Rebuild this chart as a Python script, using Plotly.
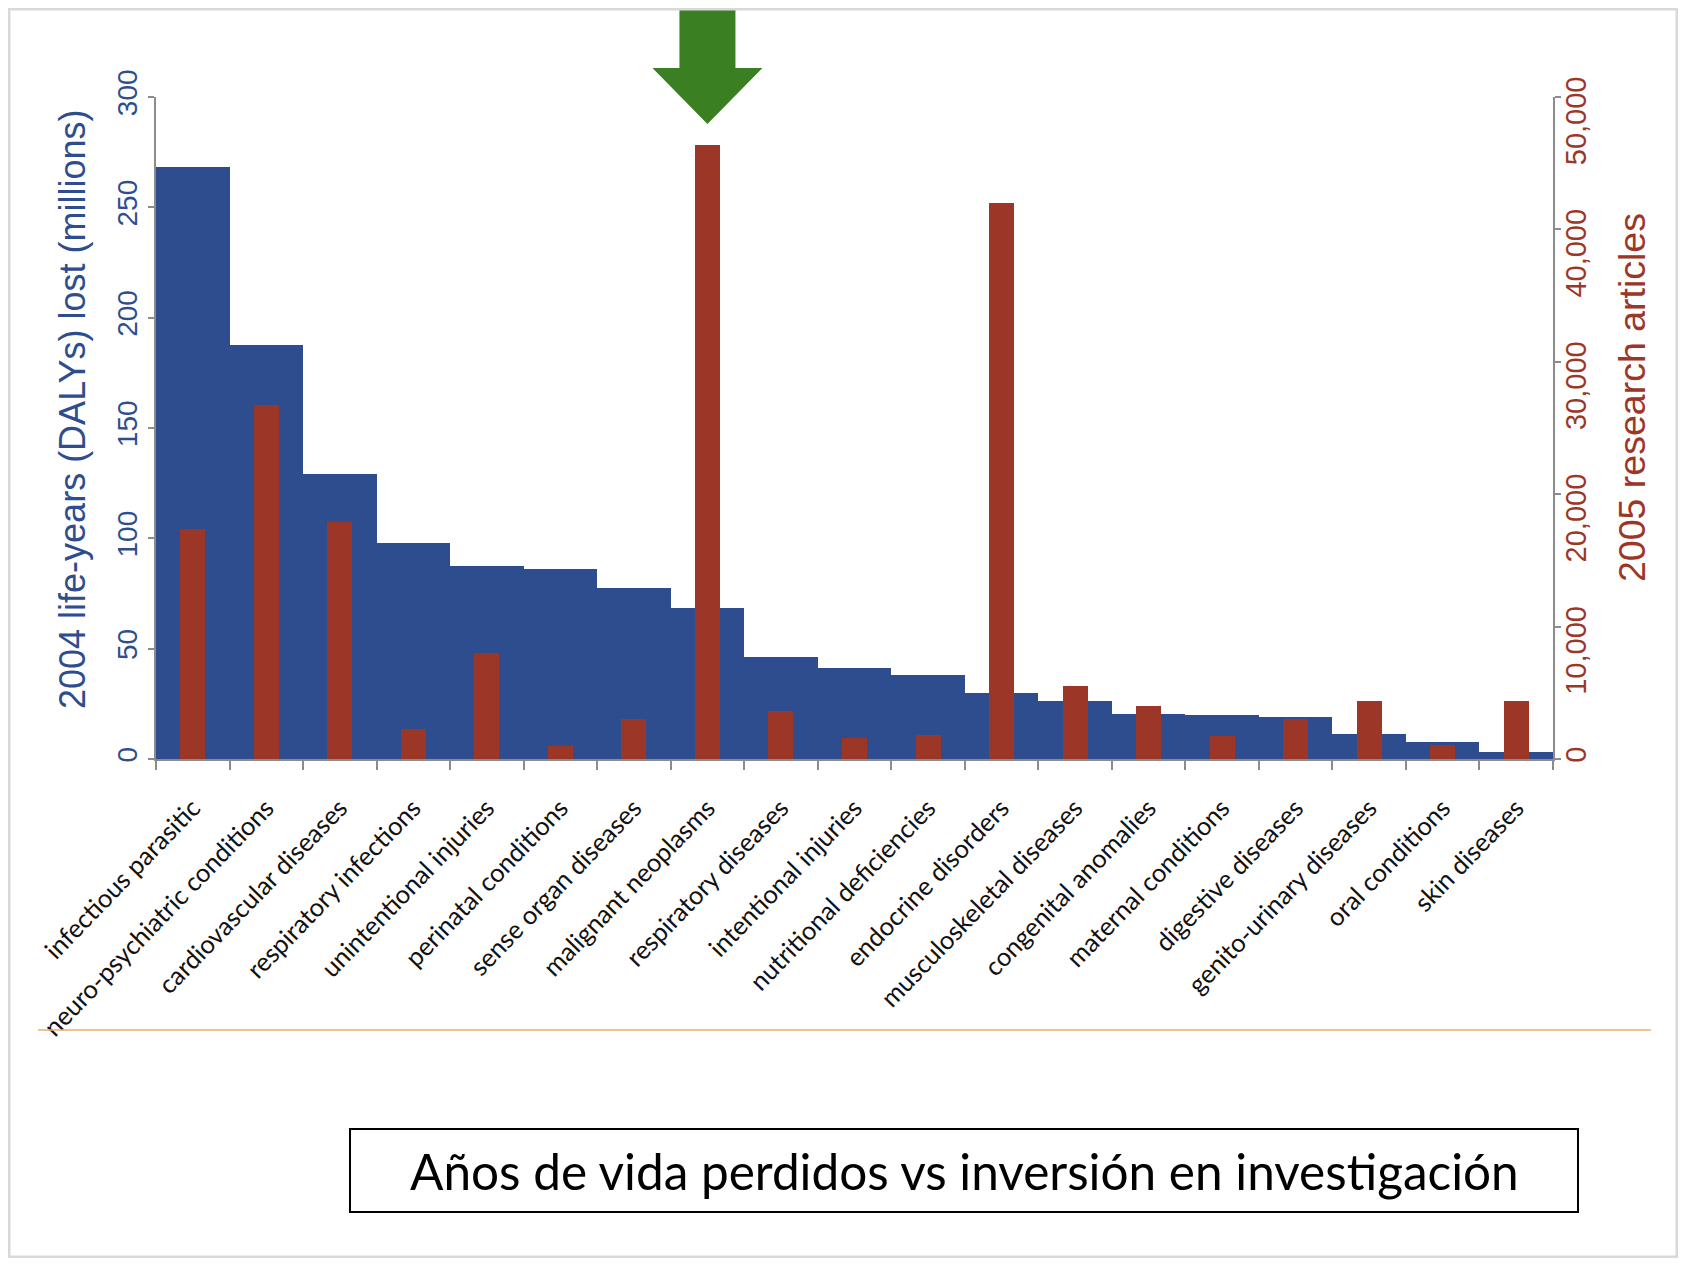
import plotly.graph_objects as go

# disease categories, 2004 DALYs lost (millions) and 2005 research articles
categories = ['infectious parasitic', 'neuro-psychiatric conditions', 'cardiovascular diseases',
              'respiratory infections', 'unintentional injuries', 'perinatal conditions',
              'sense organ diseases', 'malignant neoplasms', 'respiratory diseases',
              'intentional injuries', 'nutritional deficiencies', 'endocrine disorders',
              'musculoskeletal diseases', 'congenital anomalies', 'maternal conditions',
              'digestive diseases', 'genito-urinary diseases', 'oral conditions', 'skin diseases']
dalys = [268.5, 187.7, 129.1, 97.7, 87.6, 86.0, 77.7, 68.5, 46.4, 41.2,
         37.9, 29.9, 26.5, 20.5, 19.9, 19.1, 11.2, 7.6, 3.3]
articles = [17400, 26700, 17900, 2300, 8000, 950, 3000, 46350, 3650, 1550,
            1800, 42000, 5500, 4000, 1700, 3000, 4350, 1050, 4400]
left_ticks = [0, 50, 100, 150, 200, 250, 300]
right_ticks = [0, 10000, 20000, 30000, 40000, 50000]
highlight = 'malignant neoplasms'

BLUE = '#2E4D8E'
RED = '#9C3627'
AXIS = '#8c8c8c'
W, H = 1670, 1250
L, R, T, B = 148, 125, 89, 499
PW, PH = W - L - R, H - T - B


def px_x(x):
    return (x - L) / PW


def px_y(y):
    return (H - B - y) / PH


# right-axis labels sit a little below their ticks in the original, pad them
right_text = ['{:,}'.format(v) + ('\u00a0' * 7 if v else '') for v in right_ticks]

fig = go.Figure()
fig.add_trace(go.Bar(x=categories, y=dalys, width=1, marker=dict(color=BLUE, line_width=0),
                     name='DALYs'))
fig.add_trace(go.Bar(x=categories, y=articles, width=0.34, yaxis='y2',
                     marker=dict(color=RED, line_width=0), name='Articles'))

fig.update_layout(
    width=W, height=H,
    margin=dict(l=L, r=R, t=T, b=B, autoexpand=False),
    paper_bgcolor='white', plot_bgcolor='white',
    barmode='overlay', bargap=0, showlegend=False,
    font=dict(family='Liberation Sans, Arial, sans-serif'),
    xaxis=dict(type='category', range=[-0.5, len(categories) - 0.5],
               tickson='boundaries', ticks='outside', ticklen=9, tickcolor=AXIS, tickwidth=2,
               showline=True, linecolor=AXIS, linewidth=2, showgrid=False,
               ticklabelstandoff=22, tickangle=-46,
               tickfont=dict(family='Lato, sans-serif', size=25.5, color='#111111')),
    yaxis=dict(range=[0, 300], tickvals=left_ticks, ticks='outside', ticklen=6, tickcolor=AXIS,
               tickwidth=2, showline=True, linecolor=AXIS, linewidth=2, showgrid=False,
               zeroline=False, tickangle=-90, tickfont=dict(size=28, color=BLUE)),
    yaxis2=dict(range=[0, 50000], tickvals=right_ticks, ticktext=right_text, overlaying='y',
                side='right', ticks='outside', ticklen=6, tickcolor=AXIS, tickwidth=2,
                showline=True, linecolor=AXIS, linewidth=2, showgrid=False, zeroline=False,
                ticklabelstandoff=-10, tickangle=-90, tickfont=dict(size=29, color=RED)),
)

# axis titles
fig.add_annotation(text='2004 life-years (DALYs) lost (millions)', xref='paper', yref='paper',
                   x=px_x(64), y=px_y(401), xanchor='center', yanchor='middle',
                   textangle=-90, showarrow=False, font=dict(size=36, color=BLUE))
fig.add_annotation(text='2005 research articles', xref='paper', yref='paper',
                   x=px_x(1624), y=px_y(390), xanchor='center', yanchor='middle',
                   textangle=-90, showarrow=False, font=dict(size=37.5, color=RED))

# green arrow over the highlighted category
cx = (categories.index(highlight) + 0.5) / len(categories)
sw, hw = 28 / PW, 55 / PW
ytop, ybase, ytip = px_y(0), px_y(60), px_y(116)
arrow = (f'M {cx - sw},{ytop} L {cx + sw},{ytop} L {cx + sw},{ybase} L {cx + hw},{ybase} '
         f'L {cx},{ytip} L {cx - hw},{ybase} L {cx - sw},{ybase} Z')
fig.add_shape(type='path', path=arrow, xref='paper', yref='paper',
              fillcolor='#3A7F22', line=dict(width=0))

# orange separator line
fig.add_shape(type='line', xref='paper', yref='paper', x0=px_x(30), x1=px_x(1643),
              y0=px_y(1022), y1=px_y(1022), line=dict(color='#E4B26A', width=1.5))

# caption box
fig.add_shape(type='rect', xref='paper', yref='paper', x0=px_x(342), x1=px_x(1570),
              y0=px_y(1204), y1=px_y(1121), line=dict(color='black', width=2))
fig.add_annotation(text='Años de vida perdidos vs inversión en investigación', xref='paper',
                   yref='paper', x=px_x(956), y=px_y(1163), xanchor='center', yanchor='middle',
                   showarrow=False, font=dict(family='Lato, sans-serif', size=49.5, color='black'))

# light frame around the slide
fig.add_shape(type='rect', xref='paper', yref='paper', x0=px_x(1), x1=px_x(W - 1),
              y0=px_y(H - 1), y1=px_y(1), line=dict(color='#d9d9d9', width=3))

fig.write_html('out.html')
